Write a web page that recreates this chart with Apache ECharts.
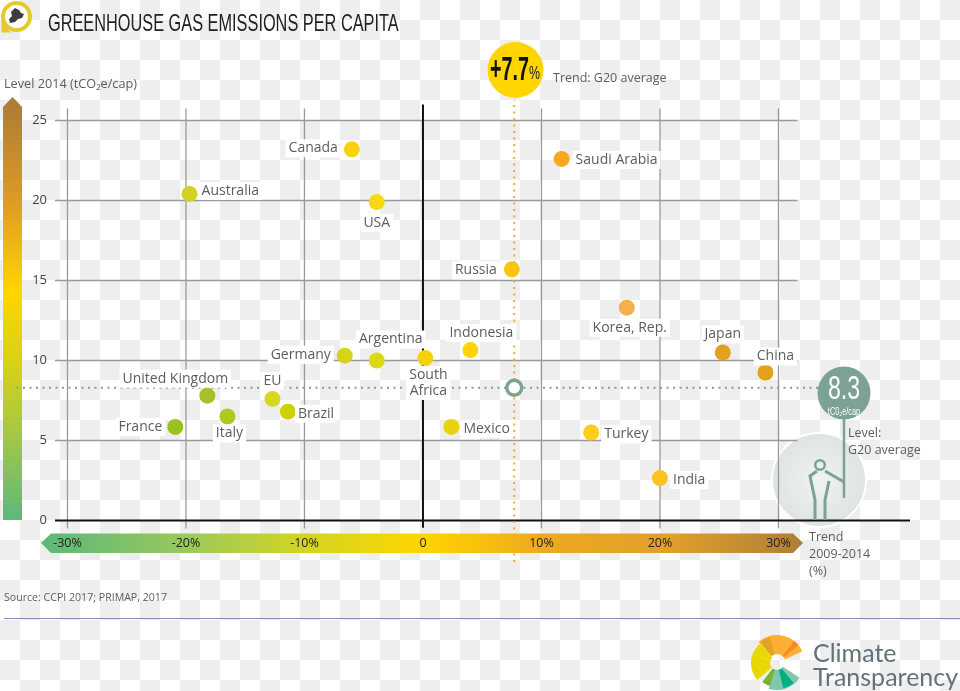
<!DOCTYPE html>
<html><head><meta charset="utf-8">
<style>html,body{margin:0;padding:0;width:960px;height:691px;overflow:hidden;background:repeating-conic-gradient(#eeeeee 0 25%,#ffffff 0 50%) 0 0/40px 40px}#c{width:960px;height:691px}</style>
<script src="https://cdn.jsdelivr.net/npm/echarts@6/dist/echarts.min.js"></script>
</head><body><div id="c"></div>
<script>
const countries=['Canada','Australia','USA','Saudi Arabia','Russia','Korea, Rep.','Japan','China','Germany','Argentina','South\nAfrica','Indonesia','United Kingdom','EU','Italy','Brazil','France','Mexico','Turkey','India'];
const trend=[-6.0,-19.7,-3.9,11.7,7.5,17.2,25.3,28.9,-6.6,-3.9,0.2,4.0,-18.2,-12.7,-16.5,-11.4,-20.9,2.4,14.2,20.0];
const level=[23.2,20.4,19.9,22.6,15.7,13.3,10.5,9.25,10.3,10.0,10.15,10.65,7.8,7.6,6.5,6.8,5.85,5.85,5.5,2.65];
const dotColors=['#f9d20b','#d2d126','#fad80f','#f8a81c','#fbc316','#f4b04d','#e4a11c','#e4a11c','#d5d41a','#dcd816','#f5d205','#ffd308','#a4c227','#d8d720','#b0c920','#cdd108','#98c31c','#e9d20d','#fdcf1b','#fdc221'];
const labelSides=['left','right','bottom','right','left','bottom','top','top','left','top','bottom','top','top','top','bottom','right','left','right','right','right'];
const labelShifts=[[1,-1],[-3,-3],[0,0],[-1,1],[0,1],[3,-1],[0,3],[10,5],[1,-1],[14,0],[3,-4],[11,4],[-32,4],[0,3],[2,-4],[-5,2],[2,0],[-3,2],[-2,2],[-2,2]];
const xTicks=[-30,-20,-10,0,10,20,30];
const xTickLabels=['-30%','-20%','-10%','0','10%','20%','30%'];
const yTicks=[0,5,10,15,20,25];
const g20Trend=7.7, g20Level=8.3;

const FONT='"Open Sans",sans-serif';
const COND='"Liberation Sans",sans-serif';
const GREY='#5c5d5f';
const TEAL='#7ba293';
const XMIN=-34.85,XMAX=41.1,YMIN=-2.85,YMAX=26.5;
const gridColor='#9a9a9a';
function seg(a,b,color,width,type,z){return {type:'line',silent:true,symbol:'none',animation:false,z:z||1,data:[a,b],lineStyle:{color,width,type:type||'solid'},tooltip:{show:false}};}
const series=[];
xTicks.filter(v=>v!==0).forEach(v=>series.push(seg([v,-0.5],[v,25.75],gridColor,1.3)));
yTicks.filter(v=>v!==0).forEach(v=>series.push(seg([-31.05,v],[31.6,v],gridColor,1.3)));
series.push(seg([0,-0.45],[0,26],'#111',2,null,1.5));
series.push(seg([-31.05,0],[41.1,0],'#111',2,null,1.5));
series.push(seg([-34.3,g20Level],[33.8,g20Level],TEAL,2,[2,4.5],1.6));
series.push(seg([g20Trend,-2.6],[g20Trend,26.3],'#f2a92c',2,[2,4.5],1.6));
series.push({type:'scatter',z:3,animation:false,symbolSize:16,
  data:countries.map((n,i)=>{const p=labelSides[i];return {name:n,value:[trend[i],level[i]],itemStyle:{color:dotColors[i],opacity:1},
    label:{show:true,formatter:n,position:p,offset:labelShifts[i],distance:4,fontFamily:FONT,fontSize:14,lineHeight:16,color:GREY,backgroundColor:'#fff',padding:[1,3,1,3],align:p==='left'?'right':p==='right'?'left':'center'}};}),
});
series.push({type:'scatter',z:4,animation:false,symbol:'circle',symbolSize:15,data:[[g20Trend,g20Level]],itemStyle:{color:'#fff',borderColor:TEAL,borderWidth:3.5,opacity:1}});

const yGrad={type:'linear',x:0,y:0,x2:0,y2:1,colorStops:[{offset:0,color:'#a97b36'},{offset:.25,color:'#e09a26'},{offset:.46,color:'#ffd500'},{offset:.62,color:'#d9d215'},{offset:.8,color:'#a4c746'},{offset:1,color:'#5cb87d'}]};
const xGrad={type:'linear',x:0,y:0,x2:1,y2:0,colorStops:[{offset:0,color:'#5bb87a'},{offset:.2,color:'#9ec95a'},{offset:.34,color:'#d2d424'},{offset:.5,color:'#ffd500'},{offset:.66,color:'#eda920'},{offset:.82,color:'#e0a02a'},{offset:1,color:'#ae7e37'}]};
const txt=(x,y,t,o={})=>({type:'text',x,y,z:o.z||10,scaleX:o.scaleX||1,silent:true,style:{text:t,fontFamily:o.font||FONT,fontSize:o.size||12.5,fontWeight:o.weight||'normal',fill:o.fill||GREY,align:o.align||'left',verticalAlign:o.va||'middle'}});
const rad=d=>d*Math.PI/180;
const sec=(s,e,r0,r,fill)=>({type:'sector',x:777,y:663,z:10,silent:true,shape:{cx:0,cy:0,r0,r,startAngle:rad(s),endAngle:rad(e)},style:{fill}});
const pl=(pts,w)=>({type:'polyline',z:10,silent:true,shape:{points:pts},style:{stroke:TEAL,lineWidth:w||3,fill:null}});

const graphic=[
 {type:'circle',z:10,silent:true,shape:{cx:16.5,cy:16.5,r:13.5},style:{fill:'#fff',stroke:'#e6c92d',lineWidth:4}},
 {type:'polygon',z:10,silent:true,shape:{points:[[1.5,16],[8,30],[11,32.5],[1.5,32.5]]},style:{fill:'#e6c92d'}},
 {type:'polygon',z:11,silent:true,shape:{points:[[15,8],[19,10],[21,13],[24,14],[22,18],[18,19],[15,22],[10,23],[9,19],[12,16],[11,12]]},style:{fill:'#3d3d3d'}},
 txt(48,24.5,'GREENHOUSE GAS EMISSIONS PER CAPITA',{font:COND,size:24,fill:'#222',scaleX:0.68}),
 txt(4,84,'Level 2014 (tCO₂e/cap)',{size:12.7}),
 {type:'polygon',z:0,silent:true,shape:{points:[[12.5,97],[22,107],[22,520],[3,520],[3,107]]},style:{fill:yGrad}},
 {type:'polygon',z:0,silent:true,shape:{points:[[41,543],[51,533.5],[793,533.5],[803,543],[793,553],[51,553]]},style:{fill:xGrad}},
 {type:'circle',z:0,silent:true,shape:{cx:819,cy:480,r:47},style:{fill:{type:'radial',x:.5,y:.5,r:.5,colorStops:[{offset:0,color:'#f1f2f2'},{offset:1,color:'#dfe3e3'}]},stroke:'#fff',lineWidth:2}},
 {type:'circle',z:10,silent:true,shape:{cx:820,cy:465,r:4.8},style:{fill:'none',stroke:TEAL,lineWidth:2.5}},
 pl([[815,520],[815,500],[810,476],[817,471]]),
 pl([[825,471],[844,482]]),
 pl([[825,520],[825,500],[829,481]]),
 pl([[844,415],[844,498]],2.5),
 {type:'circle',z:10,silent:true,shape:{cx:844,cy:393,r:26.5},style:{fill:TEAL}},
 txt(844,390,String(g20Level),{font:COND,size:33,fill:'#fff',align:'center',z:11,scaleX:0.7}),
 txt(844,412,'tC0₂e/cap',{font:COND,size:10.5,fill:'#fff',align:'center',z:11,scaleX:0.7}),
 txt(848,433,'Level:'),txt(848,450,'G20 average'),
 txt(809,537,'Trend'),txt(809,554,'2009-2014'),txt(809,571,'(%)'),
 {type:'circle',z:10,silent:true,shape:{cx:515.5,cy:70,r:28},style:{fill:'#ffd500'}},
 txt(490,71,'+'+g20Trend,{font:COND,size:34,weight:'bold',fill:'#111',z:11,scaleX:0.58}),
 txt(529,74,'%',{font:COND,size:19,fill:'#222',z:11,scaleX:0.65}),
 txt(553,78.5,'Trend: G20 average'),
 txt(4,598,'Source: CCPI 2017; PRIMAP, 2017',{size:10.6}),
 {type:'line',z:1,silent:true,shape:{x1:4,y1:618.5,x2:960,y2:618.5},style:{stroke:'#8a8cab',lineWidth:1}},
 sec(-131,-25,9,28,'#fbb034'),sec(-128,-105,9,27,'#e2a422'),sec(-52,-40,9,28,'#f68b1f'),
 sec(139,200,7,26,'#e6d800'),sec(200,229,7,26,'#e6d800'),sec(105,128,7,24,'#7ab32e'),
 sec(33,108,7,27,'#80c8ac'),sec(50,76,7,26,'#00b088'),
 txt(813,654,'Climate',{font:'Lato,sans-serif',size:25,fill:'#63727a'}),
 txt(813,678,'Transparency',{font:'Lato,sans-serif',size:25,fill:'#63727a'})
];

const chart=echarts.init(document.getElementById('c'),null,{renderer:'canvas'});
chart.setOption({animation:false,backgroundColor:'transparent',
 grid:{left:10,top:96.5,width:900,height:469.6,containLabel:false},
 xAxis:{type:'value',min:XMIN,max:XMAX,offset:-33,splitLine:{show:false},axisLine:{show:false},axisTick:{show:false},
   axisLabel:{customValues:xTicks,margin:4,fontFamily:FONT,fontSize:12.5,color:'#222',formatter:v=>xTickLabels[xTicks.indexOf(v)]||''}},
 yAxis:{type:'value',min:YMIN,max:YMAX,offset:-45,splitLine:{show:false},axisLine:{show:false},axisTick:{show:false},
   axisLabel:{customValues:yTicks,margin:8,fontFamily:FONT,fontSize:13,color:'#444'}},
 graphic:{elements:graphic},
 series});
</script></body></html>
